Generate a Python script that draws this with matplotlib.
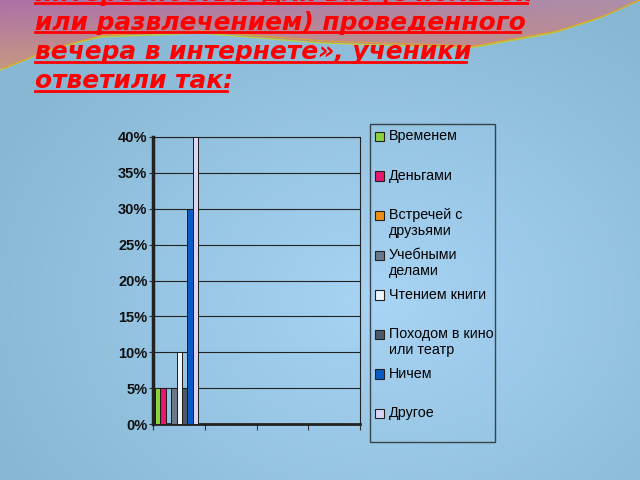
import numpy as np
import matplotlib
matplotlib.use('Agg')
import matplotlib.pyplot as plt
from matplotlib.patches import Rectangle, Polygon
from matplotlib.legend_handler import HandlerPatch
from matplotlib.lines import Line2D

# --------------------------------------------------------------------------------------
# Data

categories    = ['', '', '', '']
series_names  = ['Временем', 'Деньгами', 'Встречей с\nдрузьями', 'Учебными\nделами',
                 'Чтением книги', 'Походом в кино\nили театр', 'Ничем', 'Другое']
series_shares = [5, 5, 0, 5, 10, 5, 30, 40]
series_colors = ['#8cd23c', '#e8186e', '#f08c10', '#6a7888',
                 '#eef4fa', '#4e5866', '#0a5cc4', '#dcd4f6']
yticks        = [0, 5, 10, 15, 20, 25, 30, 35, 40]

title_lines = ['интересностью для вас (с пользой',
               'или развлечением) проведенного',
               'вечера в интернете», ученики',
               'ответили так:']

# --------------------------------------------------------------------------------------
# Figure + background

W, H = 640, 480
fig = plt.figure(figsize=(6.4, 4.8), dpi=100)

bg = fig.add_axes([0, 0, 1, 1], zorder=-10)
bg.set_xlim(0, W)
bg.set_ylim(H, 0)
bg.axis('off')

yy, xx = np.mgrid[0:H, 0:W]
r = np.sqrt(((xx - 380) / 420.0) ** 2 + ((yy - 300) / 330.0) ** 2)
r = np.clip(r, 0, 1)
c_in  = np.array([0.66, 0.83, 0.96])
c_out = np.array([0.53, 0.72, 0.83])
img = c_in[None, None, :] * (1 - r[..., None]) + c_out[None, None, :] * r[..., None]
bg.imshow(img, extent=[0, W, H, 0], aspect='auto', zorder=0)

# coloured wave at the top (decoration)
wave_x = [0, 50, 100, 200, 320, 470, 553, 600, 640]
wave_y = [70, 50, 37, 33, 43, 48, 33, 18, 0]
wx = np.linspace(0, W, 120)
wy = np.interp(wx, wave_x, wave_y)
band = Polygon(np.column_stack([np.r_[wx, W, 0], np.r_[wy, 0, 0]]), closed=True,
               facecolor='none', edgecolor='none')
bg.add_patch(band)
top = np.zeros((H, W, 3))
t = xx / W
d = np.clip(yy / 70.0, 0, 1)
top[..., 0] = 0.68 + 0.10 * d
top[..., 1] = 0.44 + 0.16 * d * (1 - t) + 0.12 * t
top[..., 2] = 0.66 - 0.16 * d
im2 = bg.imshow(top, extent=[0, W, H, 0], aspect='auto', zorder=1)
im2.set_clip_path(band)
bg.plot(wx, wy, color='#b8d040', lw=1.0, zorder=2)
bg.plot(wx + 4, wy - 2, color='#e0a030', lw=0.8, zorder=2)

# --------------------------------------------------------------------------------------
# Title

for i, line in enumerate(title_lines):
    fig.text(35 / W, 1 - (0.5 + i * 29.3) / H, line, color='#ff0000', fontsize=17.9,
             fontweight='bold', fontstyle='italic', family='DejaVu Sans',
             va='baseline', ha='left')

# --------------------------------------------------------------------------------------
# Chart

ax = fig.add_axes([153 / W, 1 - 424 / H, (360 - 153) / W, (424 - 137) / H])
ax.patch.set_alpha(0)

x = np.arange(len(categories))
bw = 0.104
start = -0.46
for i, (name, val, col) in enumerate(zip(series_names, series_shares, series_colors)):
    vals = [val] + [0] * (len(categories) - 1)
    ax.bar(x + start + bw * (i + 0.5), vals, width=bw, color=col,
           edgecolor='#1a1a1a', linewidth=0.7, label=name, zorder=3)

ax.set_xlim(-0.5, len(categories) - 0.5)
ax.set_ylim(0, 40)
ax.set_yticks(yticks)
ax.set_yticklabels([str(v) + '%' for v in yticks], fontsize=10.5, fontweight='bold',
                   family='Liberation Sans', color='#111111')
ax.set_xticks(np.arange(len(categories) + 1) - 0.5)
ax.set_xticklabels([''] * (len(categories) + 1))
ax.tick_params(axis='x', direction='out', length=4, width=0.8, color='#333333')
ax.tick_params(axis='y', direction='out', length=3, width=0.8, color='#333333', pad=1)
ax.yaxis.grid(True, color='#222222', linewidth=0.8, zorder=0)
ax.set_axisbelow(True)
for s in ax.spines.values():
    s.set_color('#222222')
    s.set_linewidth(0.8)
ax.spines['left'].set_linewidth(2.5)
ax.spines['bottom'].set_linewidth(2.0)

# --------------------------------------------------------------------------------------
# Legend


def first_line_patch(legend, orig_handle, xdescent, ydescent, width, height, fontsize):
    return Rectangle((-xdescent, -ydescent + 0.58 * fontsize), width, height)


labels = [n if '\n' in n else n + '\n ' for n in series_names]
handles = [Rectangle((0, 0), 1, 1, facecolor=c, edgecolor='#222222', linewidth=0.8)
           for c in series_colors]
leg = fig.legend(handles, labels, loc='upper left',
                 bbox_to_anchor=(370 / W, 1 - 124 / H - 0.01, 125 / W, 0.01), mode='expand',
                 prop={'family': 'Liberation Sans', 'size': 10.3}, frameon=True,
                 fancybox=False, edgecolor='#222222', facecolor='none',
                 handlelength=0.63, handleheight=0.63, handletextpad=0.35,
                 labelspacing=0.66, borderpad=0.35, borderaxespad=0,
                 handler_map={Rectangle: HandlerPatch(patch_func=first_line_patch)})
leg.get_frame().set_linewidth(1.0)
for tx in leg.get_texts():
    tx.set_color('#000000')

# underline title lines
fig.canvas.draw()
renderer = fig.canvas.get_renderer()
for t_ in fig.texts:
    bb = t_.get_window_extent(renderer)
    y0 = t_.get_position()[1] - 2.5 / H
    fig.add_artist(Line2D([bb.x0 / W, bb.x1 / W - 6 / W], [y0, y0], color='#ff0000', lw=2.0,
                          transform=fig.transFigure))

fig.savefig('out.png', dpi=100)
